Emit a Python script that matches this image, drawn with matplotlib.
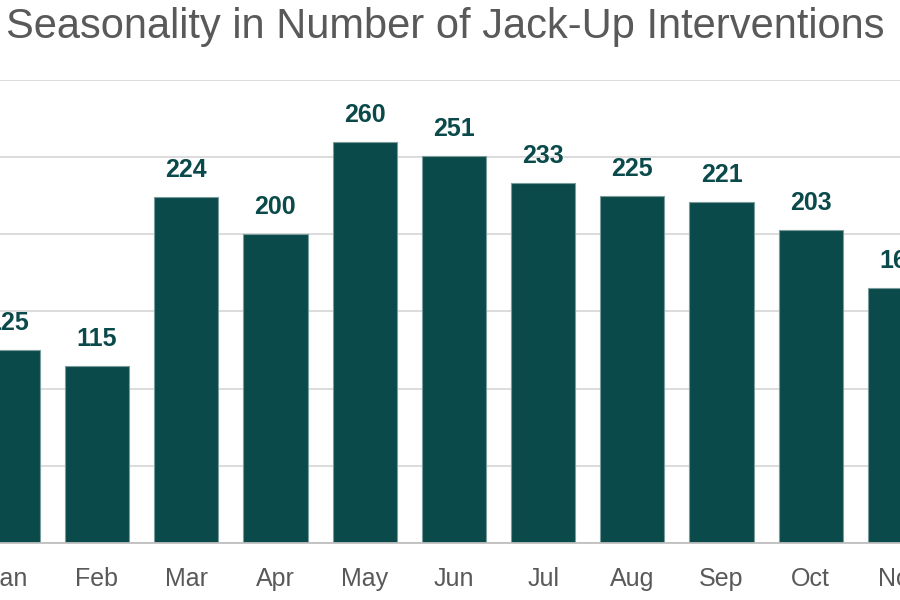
import matplotlib
matplotlib.use("Agg")
import matplotlib.pyplot as plt

months = ["Jan", "Feb", "Mar", "Apr", "May", "Jun", "Jul", "Aug", "Sep", "Oct", "Nov"]
interventions = [125, 115, 224, 200, 260, 251, 233, 225, 221, 203, 165]

bar_color = "#0b4a4a"
text_gray = "#595959"

plt.rcParams["font.family"] = ["Liberation Sans", "DejaVu Sans"]

fig = plt.figure(figsize=(9, 6), dpi=100)
# axes run past the figure edges so Jan and Nov are cut off like the reference
ax = fig.add_axes([0, 0.095, 1, 0.7717])

x = list(range(len(months)))
ax.bar(x, interventions, width=0.72, color=bar_color, edgecolor="#7a9c9c",
       linewidth=0.8, zorder=3)

for xi, v in zip(x, interventions):
    ax.annotate(str(v), (xi, v), xytext=(0, 14.4), textcoords="offset points",
                ha="center", va="baseline", fontsize=18, fontweight="bold",
                color=bar_color, annotation_clip=False)

ax.set_xlim(-0.087, 9.844)
ax.set_ylim(0, 300)
ax.set_yticks(range(0, 301, 50))
ax.set_yticklabels([])
ax.tick_params(axis="y", length=0)
ax.grid(axis="y", color="#d9d9d9", linewidth=1.3, zorder=0)

ax.set_xticks(x)
ax.set_xticklabels(months, fontsize=18, color=text_gray)
ax.tick_params(axis="x", length=0, pad=31)
for lbl in ax.get_xticklabels():
    lbl.set_va("baseline")

for side in ["top", "right", "left"]:
    ax.spines[side].set_visible(False)
ax.spines["bottom"].set_color("#bfbfbf")
ax.spines["bottom"].set_linewidth(1.3)
ax.spines["bottom"].set_zorder(4)

fig.text(0.495, 1 - 38 / 600, "Seasonality in Number of Jack-Up Interventions",
         ha="center", va="baseline", fontsize=30, color=text_gray)

fig.savefig("out.png", dpi=100)
